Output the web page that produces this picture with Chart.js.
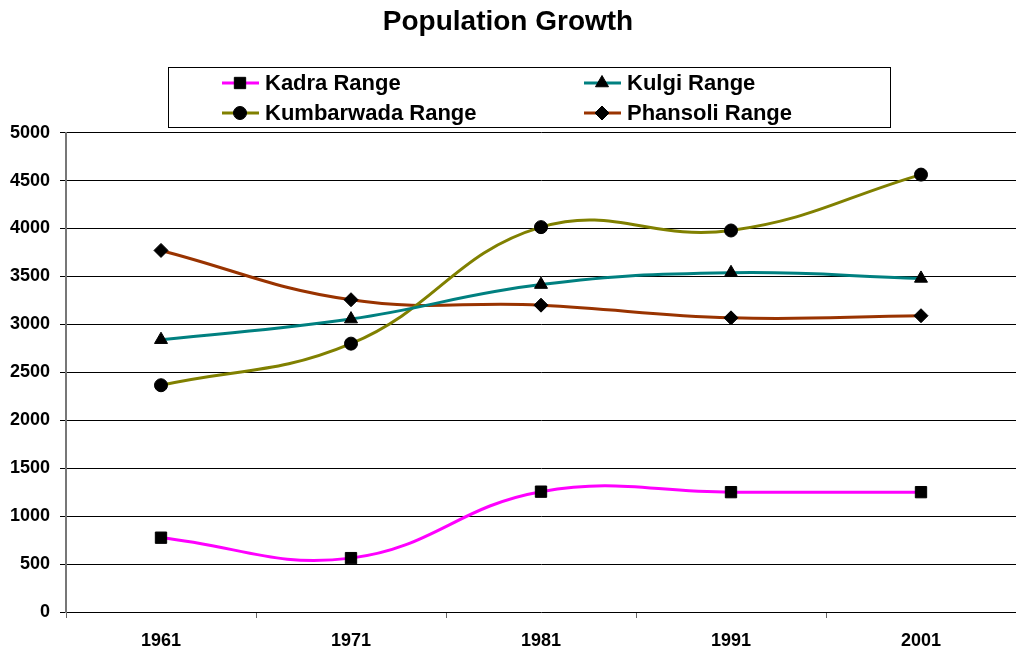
<!DOCTYPE html>
<html>
<head>
<meta charset="utf-8">
<script src="https://cdn.jsdelivr.net/npm/chart.js@4"></script>
<style>
  html, body { margin: 0; padding: 0; background: #fff; }
  #wrap { width: 1016px; height: 654px; }
</style>
</head>
<body>
<div id="wrap"><canvas id="popChart" width="1016" height="654"></canvas></div>
<script>
const years = ['1961', '1971', '1981', '1991', '2001'];
const kadra = [775, 562, 1255, 1250, 1250];
const kulgi = [2840, 3055, 3415, 3538, 3479];
const kumbarwada = [2365, 2799, 4014, 3979, 4562];
const phansoli = [3771, 3257, 3200, 3068, 3090];

const seriesNames = ['Kadra Range', 'Kulgi Range', 'Kumbarwada Range', 'Phansoli Range'];
const seriesColors = ['#FF00FF', '#008080', '#808000', '#993300'];
const seriesMarkers = ['rect', 'triangle', 'circle', 'rectRot'];
const markerSizes = [8, 7.5, 6.5, 7];
const seriesData = [kadra, kulgi, kumbarwada, phansoli];

const FONT = 'Arial, "Liberation Sans", sans-serif';

// legend drawn as a boxed 2x2 grid, like the original
const boxLegend = {
    id: 'boxLegend',
    afterDraw(chart) {
        const ctx = chart.ctx;
        ctx.save();
        ctx.strokeStyle = '#000';
        ctx.lineWidth = 1;
        ctx.strokeRect(168.5, 67.5, 722, 60);
        const cols = [222, 584];
        const rows = [83, 113];
        chart.data.datasets.forEach((ds, i) => {
            const x = cols[i % 2];
            const y = rows[Math.floor(i / 2)];
            ctx.strokeStyle = ds.borderColor;
            ctx.lineWidth = 3;
            ctx.beginPath();
            ctx.moveTo(x, y);
            ctx.lineTo(x + 37, y);
            ctx.stroke();
            ctx.fillStyle = '#000';
            ctx.strokeStyle = '#000';
            ctx.lineWidth = 1;
            Chart.helpers.drawPoint(ctx, {pointStyle: ds.pointStyle, radius: ds.pointRadius, borderWidth: 1}, x + 18, y);
            ctx.fillStyle = '#000';
            ctx.font = 'bold 22px ' + FONT;
            ctx.textBaseline = 'middle';
            ctx.fillText(ds.label, x + 43, y + 1);
        });
        ctx.restore();
    }
};

new Chart(document.getElementById('popChart').getContext('2d'), {
    type: 'line',
    data: {
        labels: years,
        datasets: seriesNames.map((name, i) => ({
            label: name,
            data: seriesData[i],
            borderColor: seriesColors[i],
            borderWidth: 3,
            tension: 0.42,
            pointStyle: seriesMarkers[i],
            pointRadius: markerSizes[i],
            pointBackgroundColor: '#000',
            pointBorderColor: '#000',
            pointBorderWidth: 1,
            fill: false,
            clip: false
        }))
    },
    options: {
        responsive: false,
        animation: false,
        layout: { autoPadding: false, padding: { left: 0, right: 0, top: 0, bottom: 0 } },
        plugins: {
            legend: { display: false },
            tooltip: { enabled: false },
            title: {
                display: true,
                text: 'Population Growth',
                color: '#000',
                font: { family: FONT, size: 28, weight: 'bold' },
                padding: { top: 5, bottom: 94 }
            }
        },
        scales: {
            x: {
                offset: true,
                grid: { display: true, offset: true, drawOnChartArea: false, color: '#666', tickLength: 6 },
                border: { display: false },
                ticks: { color: '#000', font: { family: FONT, size: 18, weight: 'bold' }, padding: 12 },
                afterFit(scale) { scale.height = 42; scale.paddingRight = 0; scale.paddingLeft = 0; }
            },
            y: {
                min: 0,
                max: 5000,
                ticks: {
                    stepSize: 500,
                    color: '#000',
                    font: { family: FONT, size: 18, weight: 'bold' },
                    padding: 10,
                    callback: (v) => String(v)
                },
                grid: { color: '#000', lineWidth: 1, tickLength: 6 },
                border: { display: true, color: '#777', width: 2 },
                afterFit(scale) { scale.width = 66; }
            }
        }
    },
    plugins: [boxLegend]
});
</script>
</body>
</html>
